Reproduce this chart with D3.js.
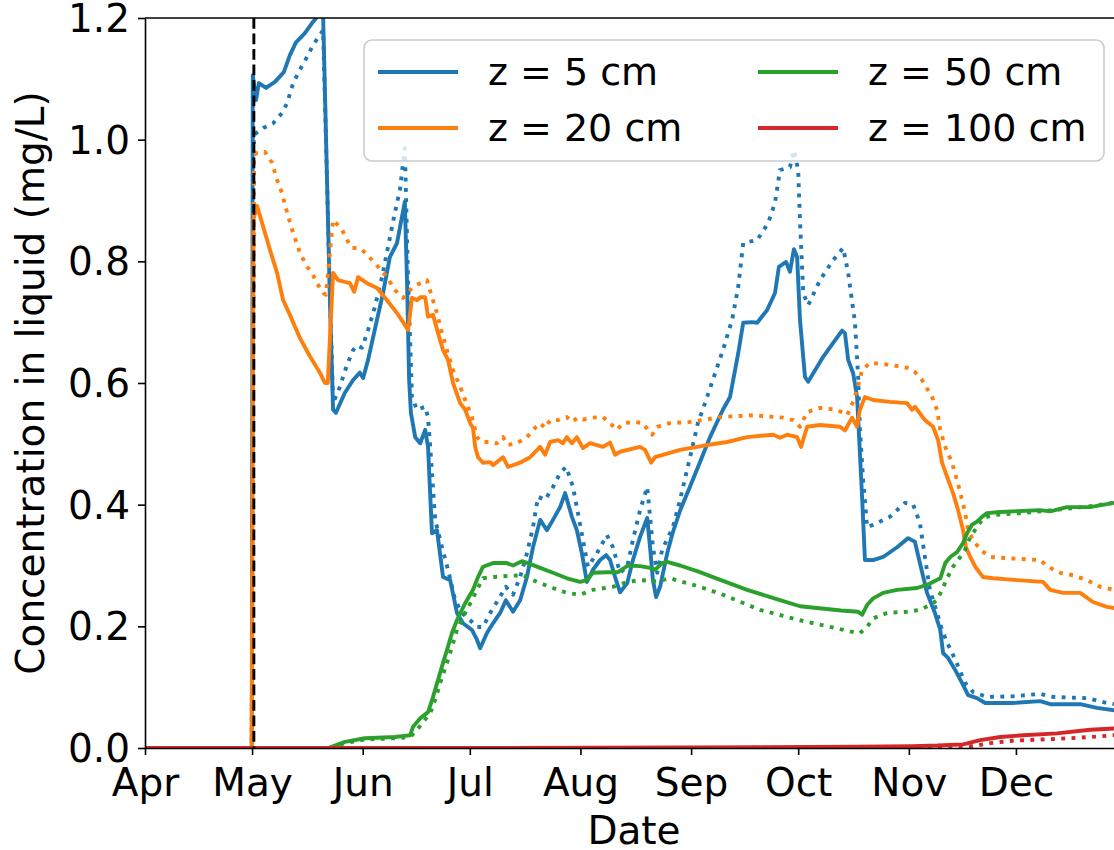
<!DOCTYPE html>
<html>
<head>
<meta charset="utf-8">
<script src="https://cdn.jsdelivr.net/npm/d3@7"></script>
<style>
  html, body { margin: 0; padding: 0; background: #fff; }
  svg { display: block; }
  text { font-family: "DejaVu Sans", sans-serif; fill: #000; }
</style>
</head>
<body>
<svg id="chart" width="1114" height="850"></svg>
<script>
// Concentration in the liquid phase at four depths (mg/L).
// Each series is a list of [days since 1 April, concentration].
// Solid lines: simulated run; dotted lines: comparison run.

const monthTicks = ["Apr", "May", "Jun", "Jul", "Aug", "Sep", "Oct", "Nov", "Dec"];
const yTicks = [0.0, 0.2, 0.4, 0.6, 0.8, 1.0, 1.2];
const depthLabels = ["z = 5 cm", "z = 20 cm", "z = 50 cm", "z = 100 cm"];
const depthColors = ["#1f77b4", "#ff7f0e", "#2ca02c", "#d62728"];
const applicationDay = 30.5; // vertical marker, early May

const solid5 = [[0,0],[29.9,0],[30.2,1.106],[31.1,1.065],[31.9,1.093],[33.9,1.085],[36.4,1.095],[38.9,1.111],[40.6,1.139],[42.3,1.16],[44.8,1.175],[47.1,1.194],[49.4,1.21],[49.9,1.205],[51.8,0.736],[52.7,0.556],[53.5,0.551],[56.0,0.584],[58.3,0.605],[60.2,0.617],[61.1,0.608],[62.5,0.638],[65.0,0.704],[66.7,0.748],[68.6,0.807],[70.6,0.83],[72.8,0.898],[73.4,0.769],[74.0,0.605],[74.5,0.551],[75.7,0.511],[77.1,0.501],[78.5,0.523],[79.3,0.495],[80.4,0.353],[81.8,0.358],[83.5,0.281],[85.5,0.276],[87.4,0.222],[89.1,0.205],[91.6,0.194],[93.0,0.178],[93.9,0.164],[95.8,0.189],[97.5,0.205],[99.5,0.222],[101.1,0.243],[103.1,0.224],[105.1,0.243],[107.0,0.281],[108.7,0.33],[110.7,0.375],[112.6,0.358],[114.3,0.375],[116.3,0.396],[117.7,0.419],[119.6,0.38],[121.0,0.358],[122.4,0.32],[123.8,0.273],[125.5,0.293],[127.5,0.309],[129.2,0.317],[130.3,0.309],[131.7,0.281],[133.1,0.256],[135.1,0.271],[136.7,0.309],[138.7,0.347],[140.7,0.378],[141.5,0.33],[142.3,0.276],[143.2,0.248],[144.3,0.265],[146.3,0.32],[147.9,0.355],[149.9,0.39],[152.7,0.43],[155.5,0.47],[158.3,0.511],[161.9,0.556],[163.9,0.577],[166.2,0.649],[167.6,0.699],[170.1,0.7],[171.5,0.699],[174.3,0.72],[176.5,0.748],[177.6,0.791],[179.6,0.799],[180.7,0.783],[181.8,0.82],[182.7,0.807],[183.5,0.704],[184.9,0.61],[185.8,0.602],[190.0,0.643],[192.8,0.666],[195.3,0.686],[196.1,0.682],[197.0,0.638],[198.4,0.616],[199.5,0.577],[200.9,0.413],[201.7,0.309],[204.0,0.309],[206.8,0.314],[210.7,0.33],[213.8,0.345],[215.7,0.339],[217.1,0.304],[219.1,0.255],[221.3,0.222],[222.8,0.194],[223.6,0.156],[225.0,0.148],[227.0,0.128],[228.9,0.107],[230.6,0.087],[233.1,0.082],[235.4,0.074],[243.2,0.074],[250.8,0.077],[253.6,0.072],[262.0,0.072],[266.7,0.066],[271.5,0.062]];

const dotted5 = [[0,0],[29.9,0],[30.5,1.008],[33.1,1.019],[35.9,1.027],[38.4,1.044],[39.8,1.06],[41.5,1.093],[43.4,1.115],[45.4,1.136],[47.1,1.156],[49.0,1.172],[49.9,1.18],[51.8,0.75],[52.7,0.567],[54.6,0.594],[56.6,0.63],[58.3,0.654],[59.4,0.662],[60.8,0.658],[62.5,0.687],[64.4,0.725],[66.4,0.774],[68.1,0.824],[70.0,0.88],[71.4,0.917],[72.8,0.986],[73.7,0.769],[74.8,0.577],[76.2,0.556],[78.5,0.561],[79.3,0.543],[79.9,0.495],[81.3,0.375],[83.2,0.33],[84.9,0.293],[86.9,0.243],[88.8,0.222],[91.1,0.21],[93.0,0.199],[94.7,0.199],[96.7,0.222],[98.9,0.243],[101.1,0.265],[103.1,0.252],[105.1,0.281],[107.0,0.32],[108.7,0.363],[110.1,0.413],[112.1,0.408],[114.3,0.429],[116.3,0.452],[118.0,0.462],[119.9,0.429],[121.3,0.386],[122.7,0.342],[124.1,0.298],[126.6,0.32],[129.4,0.35],[131.1,0.33],[133.1,0.288],[135.1,0.298],[136.7,0.342],[138.7,0.391],[140.7,0.429],[141.5,0.38],[142.3,0.33],[143.5,0.288],[144.9,0.326],[147.9,0.363],[149.9,0.408],[152.7,0.478],[154.9,0.534],[156.9,0.567],[159.1,0.605],[161.9,0.654],[164.5,0.704],[166.2,0.758],[167.6,0.83],[171.5,0.835],[174.6,0.863],[176.5,0.896],[177.9,0.95],[180.7,0.955],[181.8,0.983],[183.0,0.95],[183.5,0.868],[184.4,0.748],[185.8,0.728],[189.1,0.769],[192.8,0.802],[195.6,0.822],[197.0,0.781],[198.9,0.7],[199.8,0.61],[200.3,0.523],[201.2,0.44],[202.3,0.363],[204.0,0.367],[208.7,0.38],[212.9,0.403],[215.2,0.4],[217.1,0.37],[218.5,0.314],[219.9,0.26],[221.9,0.222],[223.3,0.194],[224.7,0.174],[227.0,0.145],[229.8,0.107],[232.0,0.092],[235.9,0.084],[243.2,0.085],[250.8,0.089],[254.4,0.084],[263.9,0.082],[269.5,0.074],[271.5,0.072]];

const solid20 = [[0,0],[29.9,0],[30.4,0.87],[31.4,0.891],[33.1,0.857],[35.0,0.819],[37.0,0.781],[38.7,0.736],[40.6,0.712],[43.4,0.674],[46.2,0.644],[49.0,0.617],[50.4,0.6],[51.2,0.6],[52.7,0.781],[54.1,0.769],[57.4,0.764],[58.6,0.75],[59.7,0.774],[62.2,0.764],[65.0,0.756],[67.8,0.736],[70.6,0.715],[72.3,0.7],[73.7,0.687],[74.8,0.74],[76.2,0.736],[77.1,0.741],[78.5,0.741],[79.3,0.709],[80.7,0.712],[82.1,0.682],[83.5,0.654],[84.9,0.638],[86.3,0.6],[88.3,0.567],[89.7,0.556],[91.1,0.534],[91.9,0.526],[92.5,0.495],[93.3,0.478],[94.7,0.469],[96.7,0.47],[97.5,0.465],[100.3,0.478],[101.7,0.462],[105.1,0.469],[107.9,0.478],[110.7,0.495],[112.1,0.482],[113.5,0.503],[115.7,0.506],[117.1,0.501],[118.2,0.511],[119.6,0.501],[121.0,0.511],[122.7,0.493],[124.7,0.501],[126.6,0.498],[128.3,0.495],[130.3,0.502],[131.7,0.482],[133.1,0.487],[138.7,0.495],[140.1,0.49],[141.8,0.469],[142.9,0.478],[149.9,0.49],[157.5,0.498],[163.1,0.503],[168.7,0.511],[176.0,0.515],[177.9,0.51],[179.9,0.515],[182.7,0.511],[183.8,0.495],[185.5,0.528],[189.1,0.531],[194.7,0.528],[196.1,0.522],[198.1,0.543],[199.5,0.528],[200.3,0.556],[201.7,0.577],[204.0,0.572],[208.7,0.569],[213.5,0.567],[214.9,0.556],[215.7,0.561],[218.5,0.539],[220.8,0.528],[222.2,0.506],[223.3,0.469],[224.7,0.446],[226.4,0.419],[227.8,0.391],[229.2,0.358],[230.0,0.33],[231.2,0.314],[232.6,0.298],[234.8,0.281],[237.6,0.279],[244.3,0.276],[251.6,0.273],[253.6,0.26],[257.2,0.255],[262.0,0.255],[265.6,0.24],[269.5,0.232],[271.5,0.23]];

const dotted20 = [[0,0],[29.9,0],[30.5,0.975],[31.4,0.978],[33.6,0.98],[35.6,0.962],[37.0,0.934],[38.4,0.912],[39.8,0.88],[41.5,0.847],[43.4,0.814],[45.4,0.791],[46.8,0.781],[48.2,0.764],[49.9,0.748],[50.7,0.745],[52.4,0.852],[52.7,0.868],[55.2,0.852],[56.6,0.835],[58.0,0.822],[59.4,0.822],[60.8,0.819],[63.0,0.806],[65.3,0.791],[67.8,0.774],[70.0,0.753],[72.3,0.74],[75.1,0.758],[77.1,0.764],[79.0,0.769],[80.4,0.741],[81.8,0.715],[83.2,0.682],[84.6,0.654],[86.3,0.621],[88.3,0.594],[89.7,0.572],[91.6,0.544],[93.0,0.511],[94.4,0.503],[96.7,0.503],[98.6,0.501],[100.3,0.511],[101.7,0.498],[104.2,0.501],[107.0,0.511],[108.7,0.523],[110.7,0.534],[112.1,0.526],[113.5,0.539],[115.7,0.539],[118.2,0.544],[119.6,0.536],[121.3,0.543],[122.7,0.54],[125.3,0.543],[128.3,0.544],[130.3,0.534],[132.2,0.523],[133.9,0.534],[137.3,0.536],[139.5,0.534],[140.9,0.523],[142.1,0.515],[143.5,0.528],[147.1,0.534],[152.7,0.536],[156.3,0.539],[161.1,0.544],[170.4,0.547],[178.8,0.543],[181.6,0.539],[183.5,0.528],[185.5,0.552],[189.1,0.559],[193.9,0.556],[196.7,0.547],[198.1,0.565],[199.5,0.589],[200.9,0.621],[203.1,0.633],[208.7,0.63],[213.5,0.625],[215.7,0.618],[217.7,0.605],[220.5,0.577],[221.9,0.556],[222.8,0.523],[224.2,0.495],[226.1,0.469],[227.5,0.44],[228.9,0.408],[229.8,0.386],[230.6,0.358],[232.0,0.342],[234.0,0.326],[236.8,0.314],[241.5,0.312],[250.8,0.309],[253.0,0.298],[256.4,0.288],[260.0,0.284],[263.9,0.276],[267.6,0.265],[271.5,0.26]];

const solid50 = [[0,0],[51.3,0],[56.0,0.01],[61.6,0.016],[70.0,0.018],[72.8,0.02],[74.3,0.021],[75.1,0.035],[77.1,0.049],[79.3,0.059],[80.7,0.084],[82.1,0.112],[83.5,0.14],[84.6,0.161],[86.0,0.189],[87.4,0.21],[89.7,0.238],[91.9,0.26],[93.3,0.281],[94.7,0.298],[97.5,0.304],[101.4,0.304],[103.1,0.3],[105.6,0.307],[107.3,0.304],[110.7,0.296],[114.3,0.288],[118.2,0.279],[121.9,0.273],[123.8,0.276],[125.5,0.288],[129.4,0.289],[132.5,0.289],[135.3,0.3],[138.7,0.299],[141.5,0.296],[142.9,0.293],[144.9,0.304],[146.3,0.306],[149.9,0.3],[155.5,0.289],[159.1,0.281],[168.7,0.26],[177.9,0.243],[183.5,0.233],[195.0,0.226],[199.8,0.224],[200.9,0.219],[202.3,0.235],[204.0,0.246],[206.8,0.255],[210.7,0.26],[216.3,0.263],[219.1,0.268],[222.8,0.279],[224.2,0.304],[225.6,0.314],[227.5,0.322],[229.2,0.337],[230.3,0.353],[231.7,0.367],[233.1,0.372],[234.5,0.38],[235.9,0.386],[239.6,0.388],[250.8,0.391],[253.6,0.389],[258.3,0.396],[264.8,0.396],[271.5,0.403]];

const dotted50 = [[0,0],[52.0,0],[56.0,0.008],[61.6,0.014],[70.0,0.016],[74.3,0.018],[76.2,0.03],[79.9,0.057],[81.3,0.079],[82.7,0.107],[84.6,0.14],[86.0,0.166],[87.4,0.194],[89.7,0.222],[91.6,0.243],[93.0,0.26],[94.7,0.279],[97.5,0.281],[102.3,0.283],[105.9,0.284],[109.8,0.273],[114.3,0.263],[118.2,0.255],[121.9,0.252],[125.5,0.26],[131.1,0.265],[135.1,0.273],[138.7,0.276],[143.5,0.274],[147.1,0.279],[151.9,0.271],[155.5,0.265],[161.9,0.252],[172.3,0.227],[183.5,0.21],[198.9,0.19],[200.3,0.189],[202.3,0.199],[204.0,0.213],[207.9,0.222],[213.5,0.224],[217.1,0.227],[219.9,0.235],[221.9,0.243],[223.3,0.26],[224.7,0.279],[226.4,0.298],[228.4,0.314],[229.8,0.326],[231.2,0.347],[233.1,0.363],[234.8,0.378],[237.6,0.383],[245.2,0.386],[254.4,0.391],[262.8,0.396],[271.5,0.403]];

const solid100 = [[0,0],[90,0],[150,0.001],[200,0.002],[215,0.003],[222,0.004],[229.2,0.006],[234.0,0.013],[239.6,0.018],[246.0,0.021],[255.5,0.024],[264.8,0.03],[271.5,0.032]];

const dotted100 = [[0,0],[150,0],[215,0.001],[232.0,0.003],[236.8,0.008],[243.2,0.012],[255.5,0.015],[264.8,0.018],[271.5,0.021]];

// Drawing order: each depth solid then dotted, deeper layers on top.
const series = [
  { data: solid5, color: depthColors[0], dotted: false },
  { data: dotted5, color: depthColors[0], dotted: true },
  { data: solid20, color: depthColors[1], dotted: false },
  { data: dotted20, color: depthColors[1], dotted: true },
  { data: solid50, color: depthColors[2], dotted: false },
  { data: dotted50, color: depthColors[2], dotted: true },
  { data: solid100, color: depthColors[3], dotted: false },
  { data: dotted100, color: depthColors[3], dotted: true }
];

const start = new Date(2019, 3, 1);
const toDate = d => new Date(start.getTime() + d * 864e5);

const margin = { left: 145, top: 18, bottom: 748, right: 1123 };
const svg = d3.select("#chart");

const x = d3.scaleTime()
  .domain([start, new Date(2019, 11, 31)])
  .range([margin.left, margin.right]);
const y = d3.scaleLinear()
  .domain([0, 1.2])
  .range([margin.bottom, margin.top]);

svg.append("defs").append("clipPath").attr("id", "plot-clip")
  .append("rect")
  .attr("x", margin.left).attr("y", margin.top)
  .attr("width", margin.right - margin.left)
  .attr("height", margin.bottom - margin.top);

const line = d3.line()
  .x(d => x(toDate(d[0])))
  .y(d => y(d[1]));

const lines = svg.append("g").attr("clip-path", "url(#plot-clip)");
series.forEach(s => {
  lines.append("path")
    .datum(s.data)
    .attr("d", line)
    .attr("fill", "none")
    .attr("stroke", s.color)
    .attr("stroke-width", 3.9)
    .attr("stroke-linejoin", "round")
    .attr("stroke-linecap", s.dotted ? "butt" : "square")
    .attr("stroke-dasharray", s.dotted ? "3.9,6.4" : null);
});

// Vertical dashed marker
lines.append("line")
  .attr("x1", x(toDate(applicationDay))).attr("x2", x(toDate(applicationDay)))
  .attr("y1", margin.top).attr("y2", margin.bottom)
  .attr("stroke", "#000")
  .attr("stroke-width", 2.9)
  .attr("stroke-dasharray", "10.8,4.7");

// Axes
const monthDates = monthTicks.map((m, i) => new Date(2019, 3 + i, 1));
const xAxis = d3.axisBottom(x)
  .tickValues(monthDates)
  .tickFormat((d, i) => monthTicks[i])
  .tickSizeInner(7).tickSizeOuter(0).tickPadding(13);
const yAxis = d3.axisLeft(y)
  .tickValues(yTicks)
  .tickFormat(d3.format(".1f"))
  .tickSizeInner(7).tickSizeOuter(0).tickPadding(8);

const gx = svg.append("g")
  .attr("transform", `translate(0,${margin.bottom})`)
  .call(xAxis);
const gy = svg.append("g")
  .attr("transform", `translate(${margin.left},0)`)
  .call(yAxis);

[gx, gy].forEach(g => {
  g.select(".domain").attr("stroke", "#000").attr("stroke-width", 1.6);
  g.selectAll(".tick line").attr("stroke", "#000").attr("stroke-width", 1.6);
  g.selectAll(".tick text")
    .attr("font-family", "DejaVu Sans")
    .attr("font-size", 39)
    .attr("fill", "#000");
});
gx.selectAll(".tick text").attr("dy", "0.71em");
gy.selectAll(".tick text").attr("dy", "0.35em");

// Top spine
svg.append("line")
  .attr("x1", margin.left).attr("x2", margin.right)
  .attr("y1", margin.top).attr("y2", margin.top)
  .attr("stroke", "#000").attr("stroke-width", 1.6);

// Axis labels
svg.append("text")
  .attr("x", (margin.left + margin.right) / 2)
  .attr("y", 844)
  .attr("text-anchor", "middle")
  .attr("font-size", 39)
  .text("Date");

svg.append("text")
  .attr("transform", `translate(44,${(margin.top + margin.bottom) / 2}) rotate(-90)`)
  .attr("text-anchor", "middle")
  .attr("font-size", 39)
  .text("Concentration in liquid (mg/L)");

// Legend
const legend = svg.append("g");
legend.append("rect")
  .attr("x", 364).attr("y", 40)
  .attr("width", 740).attr("height", 121)
  .attr("rx", 8).attr("ry", 8)
  .attr("fill", "#fff").attr("fill-opacity", 0.8)
  .attr("stroke", "#cccccc").attr("stroke-width", 1.6);

const legendCols = [378, 758];
const legendRows = [72, 128];
depthLabels.forEach((label, i) => {
  const cx = legendCols[Math.floor(i / 2)];
  const cy = legendRows[i % 2];
  legend.append("line")
    .attr("x1", cx).attr("x2", cx + 80)
    .attr("y1", cy).attr("y2", cy)
    .attr("stroke", depthColors[i])
    .attr("stroke-width", 3.9);
  legend.append("text")
    .attr("x", cx + 110)
    .attr("y", cy)
    .attr("dy", "0.35em")
    .attr("font-size", 38)
    .text(label);
});
</script>
</body>
</html>
